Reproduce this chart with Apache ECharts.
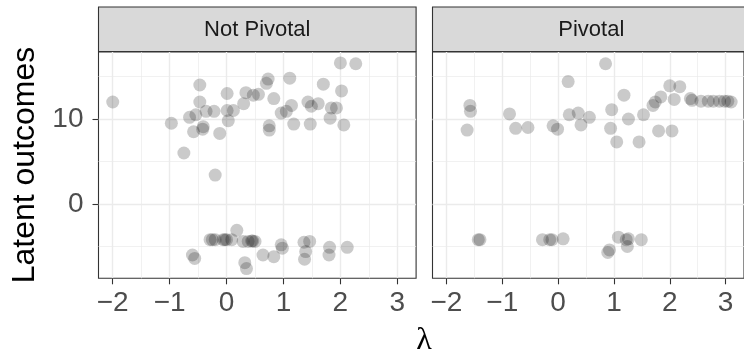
<!DOCTYPE html>
<html>
<head>
<meta charset="utf-8">
<script src="https://cdn.jsdelivr.net/npm/echarts@6/dist/echarts.min.js"></script>
<style>
  html, body { margin: 0; padding: 0; background: #fff; }
  #chart { width: 744px; height: 362px; }
</style>
</head>
<body>
<div id="chart"></div>
<script>
// facet labels
const panels = ['Not Pivotal', 'Pivotal'];

// Not Pivotal panel
const notPivotalX = [
  -2.0, -0.97, -0.75, -0.47, -0.47, -0.65, -0.54, -0.58, -0.41, -0.42, -0.36, -0.22, -0.12, -0.2,
  0.01, 0.01, 0.12, 0.03, 0.30, 0.34, 0.47, 0.56, 0.70, 0.73, 0.83, 0.75, 0.75, 0.96, 1.05,
  1.14, 1.11, 1.18, 1.43, 1.49, 1.61, 1.47, 1.70, 1.82, 1.84, 1.93, 2.02, 2.0, 2.27, 2.06,
  -0.29, -0.25, -0.2, -0.06, -0.03, 0.0, 0.09, 0.18, 0.29, 0.38, 0.44, 0.46, 0.50,
  -0.60, -0.56, 0.32, 0.35, 0.64, 0.83, 0.96, 0.98, 1.36, 1.46, 1.39, 1.37, 1.81, 1.80, 2.12
];
const notPivotalY = [
  12.0, 9.5, 6.0, 14.0, 12.0, 10.2, 10.5, 8.5, 9.1, 8.8, 10.9, 10.9, 8.3, 3.4,
  13.0, 11.0, 11.0, 9.8, 11.8, 13.1, 12.8, 12.9, 14.2, 14.7, 12.4, 9.2, 8.7, 10.7, 10.9,
  11.6, 14.8, 9.4, 12.0, 11.5, 11.8, 9.4, 14.1, 10.1, 11.3, 11.3, 13.3, 16.6, 16.5, 9.3,
  -4.2, -4.2, -4.2, -4.2, -4.2, -4.2, -4.2, -3.1, -4.4, -4.4, -4.35, -4.35, -4.4,
  -6.0, -6.4, -6.9, -7.6, -6.0, -6.2, -4.8, -5.2, -4.5, -4.4, -5.6, -6.5, -5.1, -6.0, -5.1
];

// Pivotal panel
const pivotalX = [
  -1.58, -1.57, -1.63, -0.87, -0.76, -0.54, -0.09, -0.01, 0.18, 0.20, 0.36, 0.41, 0.56,
  0.85, 0.96, 0.94, 1.05, 1.18, 1.26, 1.45, 1.53, 1.70, 1.74, 1.84, 1.80, 2.04, 2.0, 2.18,
  2.08, 2.37, 2.40, 2.56, 2.69, 2.78, 2.89, 2.98, 3.04, 3.10,
  -1.43, -1.40, -0.28, -0.15, -0.11, 0.09, 0.89, 0.92, 1.08, 1.22, 1.26, 1.24, 1.49
];
const pivotalY = [
  11.6, 10.9, 8.7, 10.6, 8.9, 9.0, 9.2, 8.8, 14.4, 10.5, 10.7, 9.3, 10.2,
  16.5, 11.1, 8.9, 7.3, 12.8, 10.0, 7.3, 10.5, 11.6, 12.0, 12.6, 8.6, 8.6, 13.9, 13.8,
  12.3, 12.4, 12.2, 12.1, 12.1, 12.1, 12.1, 12.1, 12.1, 12.0,
  -4.2, -4.2, -4.2, -4.2, -4.2, -4.1, -5.7, -5.4, -3.9, -4.2, -4.1, -5.0, -4.2
];

// axis ticks
const xTicks = [-2, -1, 0, 1, 2, 3];
const xMinorTicks = [-1.5, -0.5, 0.5, 1.5, 2.5];
const yTicks = [0, 10];
const yMinorTicks = [-5, 5, 15];
const xRange = [-2.25, 3.33];
const yRange = [-8.74, 17.88];

const chart = echarts.init(document.getElementById('chart'));

const font = 'Liberation Sans';
const minus = v => String(v).replace('-', '\u2212');
const panelLeft = [98.5, 432.5];
const panelWidth = 317.6;
const panelTop = 52;
const panelHeight = 226.3;

function xAxes(i) {
  return [
    {
      type: 'value', gridIndex: i, min: xRange[0], max: xRange[1], position: 'bottom',
      axisLine: { show: false, onZero: false },
      axisTick: { show: true, length: 6, customValues: xTicks, lineStyle: { color: '#333333', width: 1.1 } },
      axisLabel: { customValues: xTicks, formatter: minus, color: '#4d4d4d', fontSize: 28, fontFamily: font, margin: 11 },
      splitLine: { show: true, lineStyle: { color: '#ebebeb', width: 1.4 } }
    },
    {
      type: 'value', gridIndex: i, min: xRange[0], max: xRange[1], position: 'bottom',
      axisLine: { show: false, onZero: false },
      axisTick: { show: false, customValues: xMinorTicks },
      axisLabel: { show: false },
      splitLine: { show: true, lineStyle: { color: '#ebebeb', width: 0.7 } }
    }
  ];
}

function yAxes(i) {
  return [
    {
      type: 'value', gridIndex: i, min: yRange[0], max: yRange[1], position: 'left',
      axisLine: { show: false, onZero: false },
      axisTick: { show: i === 0, length: 6, customValues: yTicks, lineStyle: { color: '#333333', width: 1.1 } },
      axisLabel: { show: i === 0, customValues: yTicks, formatter: minus, color: '#4d4d4d', fontSize: 28, fontFamily: font, margin: 15 },
      splitLine: { show: true, lineStyle: { color: '#ebebeb', width: 1.4 } }
    },
    {
      type: 'value', gridIndex: i, min: yRange[0], max: yRange[1], position: 'left',
      axisLine: { show: false, onZero: false },
      axisTick: { show: false, customValues: yMinorTicks },
      axisLabel: { show: false },
      splitLine: { show: true, lineStyle: { color: '#ebebeb', width: 0.7 } }
    }
  ];
}

const zip = (xs, ys) => xs.map((x, k) => [x, ys[k]]);

const graphics = [];
panels.forEach((name, i) => {
  graphics.push({
    type: 'rect',
    shape: { x: panelLeft[i], y: 7, width: panelWidth, height: 44.5 },
    style: { fill: '#d9d9d9', stroke: '#333333', lineWidth: 1.1 }
  });
  graphics.push({
    type: 'text',
    x: panelLeft[i] + panelWidth / 2, y: 29.5,
    style: { text: name, fontSize: 22, fontFamily: font, fill: '#1a1a1a', align: 'center', verticalAlign: 'middle' }
  });
});
graphics.push({
  type: 'text', x: 424, y: 341,
  style: { text: '\u03bb', fontSize: 32, fontFamily: 'Liberation Serif', fill: '#000', align: 'center', verticalAlign: 'middle' }
});
graphics.push({
  type: 'text', x: 25, y: 165, rotation: Math.PI / 2,
  style: { text: 'Latent outcomes', fontSize: 32, fontFamily: font, fill: '#000', align: 'center', verticalAlign: 'middle' }
});

const option = {
  animation: false,
  grid: panels.map((p, i) => ({
    left: panelLeft[i], top: panelTop, width: panelWidth, height: panelHeight,
    show: true, borderColor: '#333333', borderWidth: 1.1, backgroundColor: 'transparent',
    containLabel: false
  })),
  xAxis: [...xAxes(0), ...xAxes(1)],
  yAxis: [...yAxes(0), ...yAxes(1)],
  graphic: graphics,
  series: [
    {
      type: 'scatter', xAxisIndex: 0, yAxisIndex: 0,
      data: zip(notPivotalX, notPivotalY),
      symbolSize: 13, itemStyle: { color: 'rgba(0,0,0,0.26)' }
    },
    {
      type: 'scatter', xAxisIndex: 2, yAxisIndex: 2,
      data: zip(pivotalX, pivotalY),
      symbolSize: 13, itemStyle: { color: 'rgba(0,0,0,0.26)' }
    }
  ]
};

chart.setOption(option);
</script>
</body>
</html>
